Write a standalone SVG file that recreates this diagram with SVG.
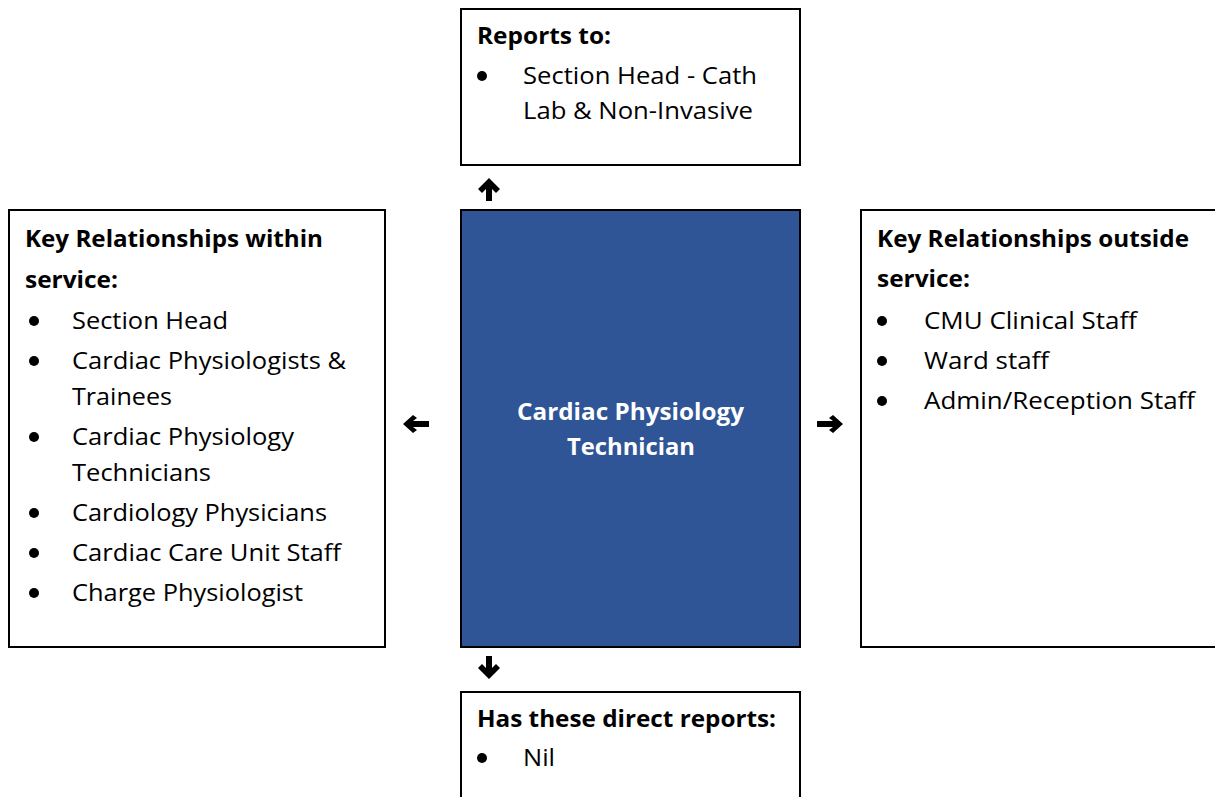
<svg xmlns="http://www.w3.org/2000/svg" width="1215" height="797" viewBox="0 0 1215 797">
<style>
.box{fill:#fff;stroke:#000;stroke-width:2}
.main{fill:#2F5597;stroke:#000;stroke-width:2}
text{font-family:"Open Sans","Liberation Sans",sans-serif;font-size:23px;fill:#000}
.b{font-weight:bold}
.w{fill:#fff;font-weight:bold}
.arr{fill:#000}
</style>
<rect width="1215" height="797" fill="#fff"/>
<g id="connectors">
<path class="arr" d="M489,178 L500,189 L496,193 L492,189 L492,201 L486,201 L486,189 L482,193 L478,189 Z"/>
<path class="arr" d="M489,679 L500,668 L496,664 L492,668 L492,656 L486,656 L486,668 L482,664 L478,668 Z"/>
<path class="arr" d="M403,424 L413,415 L417,418 L413,421 L429,421 L429,427 L413,427 L417,430 L413,433 Z"/>
<path class="arr" d="M843,424 L833,415 L829,418 L833,421 L817,421 L817,427 L833,427 L829,430 L833,433 Z"/>
</g>
<g id="reports-to">
<rect class="box" x="461" y="9" width="339" height="156"/>
<text class="b" x="477" y="44" textLength="134" lengthAdjust="spacingAndGlyphs">Reports to:</text>
<circle cx="482" cy="76" r="5"/>
<text x="523" y="84" textLength="234" lengthAdjust="spacingAndGlyphs">Section Head - Cath</text>
<text x="523" y="119" textLength="230" lengthAdjust="spacingAndGlyphs">Lab &amp; Non-Invasive</text>
</g>
<g id="center">
<rect class="main" x="461" y="210" width="339" height="437"/>
<text class="w" x="517" y="420" textLength="227" lengthAdjust="spacingAndGlyphs">Cardiac Physiology</text>
<text class="w" x="567" y="455" textLength="128" lengthAdjust="spacingAndGlyphs">Technician</text>
</g>
<g id="within">
<rect class="box" x="9" y="210" width="376" height="437"/>
<text class="b" x="25" y="247" textLength="298" lengthAdjust="spacingAndGlyphs">Key Relationships within</text>
<text class="b" x="25" y="288" textLength="93" lengthAdjust="spacingAndGlyphs">service:</text>
<circle cx="34" cy="321" r="5"/>
<text x="72" y="329" textLength="156" lengthAdjust="spacingAndGlyphs">Section Head</text>
<circle cx="34" cy="361" r="5"/>
<text x="72" y="369" textLength="274" lengthAdjust="spacingAndGlyphs">Cardiac Physiologists &amp;</text>
<text x="72" y="405" textLength="100" lengthAdjust="spacingAndGlyphs">Trainees</text>
<circle cx="34" cy="437" r="5"/>
<text x="72" y="445" textLength="222" lengthAdjust="spacingAndGlyphs">Cardiac Physiology</text>
<text x="72" y="481" textLength="139" lengthAdjust="spacingAndGlyphs">Technicians</text>
<circle cx="34" cy="513" r="5"/>
<text x="72" y="521" textLength="255" lengthAdjust="spacingAndGlyphs">Cardiology Physicians</text>
<circle cx="34" cy="553" r="5"/>
<text x="72" y="561" textLength="269" lengthAdjust="spacingAndGlyphs">Cardiac Care Unit Staff</text>
<circle cx="34" cy="593" r="5"/>
<text x="72" y="601" textLength="231" lengthAdjust="spacingAndGlyphs">Charge Physiologist</text>
</g>
<g id="outside">
<rect class="box" x="861" y="210" width="370" height="437"/>
<text class="b" x="877" y="247" textLength="312" lengthAdjust="spacingAndGlyphs">Key Relationships outside</text>
<text class="b" x="877" y="287" textLength="93" lengthAdjust="spacingAndGlyphs">service:</text>
<circle cx="882" cy="321" r="5"/>
<text x="924" y="329" textLength="213" lengthAdjust="spacingAndGlyphs">CMU Clinical Staff</text>
<circle cx="882" cy="361" r="5"/>
<text x="924" y="369" textLength="125" lengthAdjust="spacingAndGlyphs">Ward staff</text>
<circle cx="882" cy="401" r="5"/>
<text x="924" y="409" textLength="271" lengthAdjust="spacingAndGlyphs">Admin/Reception Staff</text>
</g>
<g id="direct-reports">
<rect class="box" x="461" y="692" width="339" height="130"/>
<text class="b" x="477" y="727" textLength="299" lengthAdjust="spacingAndGlyphs">Has these direct reports:</text>
<circle cx="482" cy="758" r="5"/>
<text x="523" y="766" textLength="32" lengthAdjust="spacingAndGlyphs">Nil</text>
</g>
</svg>
